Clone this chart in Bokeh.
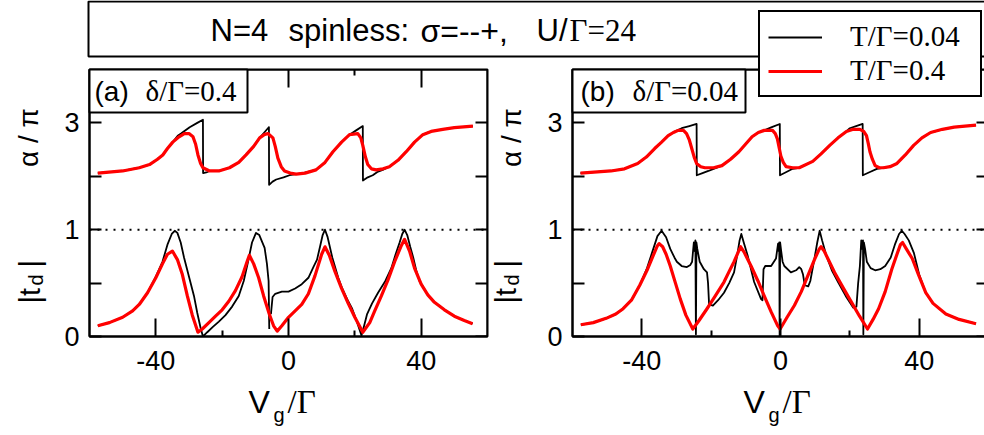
import math
import numpy as np
from bokeh.plotting import figure
from bokeh.layouts import row, column
from bokeh.models import (FixedTicker, LinearAxis, Range1d, Label, Legend, LegendItem,
                          BoxAnnotation, Span)
from bokeh.embed import file_html
from bokeh.resources import INLINE

# ---------------- data ----------------
# x axis: V_g / Gamma ; y: |t_d| (0..1) and alpha/pi (drawn shifted by -1, tick "3" sits at 2)
X_TICKS = [-40, 0, 40]
X_MINOR = [-20, 20]
X_TICK_LABELS = ["-40", "0", "40"]
Y_TICKS = [0, 0.5, 1, 1.5, 2]
Y_TICK_LABELS = ["0", "", "1", "", "3"]
ALPHA_SHIFT = 1.0

SERIES_LABELS = ["T/\u0393=0.04", "T/\u0393=0.4"]
PANEL_LABELS = [("(a)", "\u03b4/\u0393=0.4"), ("(b)", "\u03b4/\u0393=0.04")]

# ---- panel (a): delta/Gamma = 0.4 ----
a_x_blk_a = [-57.5, -50, -45, -41.9, -39.5, -37.9, -36.5, -34.9, -33.4, -32.4, -29.8, -27.5, -25.8, -25.75, -24.5,
             -23.8, -21, -17.8, -15, -12.8, -10.5, -8.7, -7.3, -6.2, -5.9, -5.85, -4.8, -3.7, -1.5, 0.3, 2.3, 4.3,
             8.3, 11, 13.4, 16, 18.4, 20.4, 22.4, 22.45, 23.9, 25.4, 26.8, 28.4, 30.4, 33, 35.5, 38, 40.5, 43,
             46.5, 50, 55.6]
a_y_blk_a = [2.53, 2.55, 2.58, 2.61, 2.66, 2.70, 2.76, 2.82, 2.88, 2.90, 2.96, 3.00, 3.03, 2.53, 2.54,
             2.55, 2.55, 2.58, 2.63, 2.70, 2.78, 2.86, 2.91, 2.95, 2.96, 2.42, 2.45, 2.47, 2.49, 2.51, 2.52, 2.53,
             2.56, 2.63, 2.73, 2.82, 2.89, 2.93, 2.97, 2.46, 2.49, 2.51, 2.54, 2.56, 2.59, 2.65, 2.73, 2.82, 2.89, 2.92,
             2.94, 2.955, 2.97]
a_x_red_a = [-57.5, -50, -45, -41.9, -39.5, -37.9, -36.5, -34.9, -33, -31.4, -30, -28.8, -28, -27.3, -26.5,
             -25.8, -23.8, -21, -17.8, -15, -12.8, -10.5, -8.7, -7.3, -6.2, -4.7, -4, -3.2, -2.2, -1.2, 0.5,
             2.3, 5, 8.3, 11, 13.4, 16, 18.4, 20.9, 21.8, 22.4, 23.2, 23.9, 25, 26.4, 28.5, 30.4, 33, 35.5,
             38, 40.5, 43, 46.5, 50, 55.6]
a_y_red_a = [2.53, 2.55, 2.58, 2.61, 2.66, 2.70, 2.76, 2.82, 2.87, 2.90, 2.90, 2.87, 2.80, 2.70, 2.62,
             2.58, 2.55, 2.55, 2.58, 2.63, 2.70, 2.78, 2.86, 2.89, 2.90, 2.86, 2.78, 2.67, 2.59, 2.55, 2.53,
             2.52, 2.53, 2.56, 2.63, 2.73, 2.82, 2.89, 2.90, 2.86, 2.79, 2.68, 2.61, 2.57, 2.56, 2.57, 2.59, 2.65, 2.73,
             2.82, 2.89, 2.92, 2.94, 2.955, 2.97]
a_x_blk_t = [-57.5, -54, -50, -47, -45, -42.5, -40, -38, -36.5, -35.2, -34.3, -33.5, -32.5, -31.5, -30, -28.5,
             -27.5, -26.5, -25.8, -24.5, -22.8, -21, -19, -17, -15, -13.5, -12.2, -11, -9.8, -8.8, -7.2, -6.5,
             -6.0, -5.8, float("nan"), -5.3, -4.8, -4.0, -2, 0, 2, 4, 6, 7.5, 8.6, 9.5, 10.3, 11, 11.8, 13.2, 15,
             16.2, 18, 19.2, 20.5, 22, 22.8, 23.7, 25.2, 27, 29.2, 31, 32.3, 33.5, 34.3, 35, 35.8, 36.7, 37.6,
             38.5, 39.5, 42, 44, 47, 50, 53, 55.5]
a_y_blk_t = [0.10, 0.13, 0.18, 0.24, 0.30, 0.41, 0.56, 0.70, 0.86, 0.96, 0.99, 0.97, 0.88, 0.74, 0.56, 0.38,
             0.22, 0.08, 0.0, 0.04, 0.09, 0.14, 0.20, 0.28, 0.38, 0.52, 0.70, 0.88, 0.97, 0.95, 0.83, 0.68,
             0.52, 0.07, float("nan"), 0.21, 0.37, 0.40, 0.42, 0.42, 0.45, 0.49, 0.55, 0.65, 0.72, 0.84, 0.95, 1.0, 0.93,
             0.74, 0.55, 0.45, 0.33, 0.26, 0.15, 0.01, 0.10, 0.21, 0.31, 0.41, 0.52, 0.64, 0.77, 0.88, 0.96, 1.0,
             0.95, 0.84, 0.74, 0.62, 0.52, 0.39, 0.32, 0.25, 0.19, 0.15, 0.12]
a_x_red_t = [-57.5, -54, -50, -47, -45, -42.5, -40, -38, -36.5, -35, -33.5, -32, -30.5, -29, -27.3, -26, -24,
             -22, -20, -18, -16, -14, -12.5, -11.8, -10.5, -9, -7.5, -5.8, -4.5, -3.4, -2, 0, 2, 4, 6, 8, 10, 11,
             12.3, 14, 16, 18, 20, 22.4, 24.5, 26, 28, 30, 32, 34, 35, 36.5, 38, 40, 42, 44, 47, 50, 53, 55.5]
a_y_red_t = [0.10, 0.13, 0.18, 0.24, 0.30, 0.41, 0.55, 0.68, 0.77, 0.80, 0.72, 0.58, 0.38, 0.20, 0.04, 0.07,
             0.13, 0.19, 0.25, 0.33, 0.43, 0.56, 0.70, 0.76, 0.68, 0.55, 0.38, 0.21, 0.10, 0.05, 0.10, 0.18, 0.24,
             0.30, 0.40, 0.57, 0.77, 0.84, 0.76, 0.61, 0.45, 0.31, 0.18, 0.04, 0.13, 0.24, 0.38, 0.53, 0.70, 0.85,
             0.91, 0.80, 0.64, 0.49, 0.39, 0.32, 0.25, 0.19, 0.15, 0.12]

# ---- panel (b): delta/Gamma = 0.04 ----
b_x_blk_a = [-57.7, -48.9, -45, -41.2, -38.7, -36.3, -34.3, -32.4, -30.5, -28.5, -26.3, -24.2, -24.15, -22.5,
             -20.8, -19.3, -16.9, -14.4, -12, -10.1, -8.2, -6.4, -4.7, -2.5, -0.2, -0.15, 1.7, 3.5, 5.4, 9.3, 11.7,
             14.2, 16.6, 19.0, 20.0, 21.8, 23.7, 23.75, 25.8, 27.8, 29.7, 31.6, 33.6, 36, 38.4, 40.8, 43.3, 46.7,
             50.1, 53.2, 56.4]
b_y_blk_a = [2.53, 2.55, 2.57, 2.62, 2.68, 2.76, 2.82, 2.88, 2.92, 2.95, 2.97, 2.99, 2.51, 2.53,
             2.55, 2.57, 2.60, 2.66, 2.73, 2.80, 2.87, 2.91, 2.93, 2.96, 2.99, 2.51, 2.54, 2.57, 2.58, 2.64, 2.71,
             2.79, 2.86, 2.92, 2.95, 2.97, 2.99, 2.51, 2.54, 2.57, 2.58, 2.59, 2.62, 2.70, 2.79, 2.86, 2.91, 2.94,
             2.96, 2.97, 2.98]
b_x_red_a = [-57.7, -48.9, -45, -41.2, -38.7, -36.3, -34.3, -32.4, -30.9, -29.5, -28, -27.1, -26.3, -25.6,
             -24.9, -24.2, -23, -21.8, -19.3, -16.9, -14.4, -12, -10.1, -8.2, -6.4, -4.7, -2.3, -1.5, -0.9, -0.4,
             0.1, 0.8, 1.6, 3.5, 5.4, 9.3, 11.7, 14.2, 16.6, 19.0, 21, 22.9, 24, 24.8, 25.3, 25.8, 26.5, 27.3,
             28.5, 29.7, 31.6, 33.6, 36, 38.4, 40.8, 43.3, 46.7, 50.1, 53.2, 56.4]
b_y_red_a = [2.53, 2.55, 2.57, 2.62, 2.68, 2.76, 2.82, 2.88, 2.91, 2.93, 2.93, 2.90, 2.84, 2.76,
             2.68, 2.62, 2.59, 2.58, 2.58, 2.60, 2.66, 2.73, 2.80, 2.87, 2.91, 2.93, 2.93, 2.90, 2.85, 2.77,
             2.69, 2.63, 2.59, 2.58, 2.58, 2.64, 2.71, 2.79, 2.86, 2.92, 2.94, 2.94, 2.92, 2.88, 2.81, 2.73, 2.66,
             2.60, 2.58, 2.58, 2.59, 2.62, 2.70, 2.79, 2.86, 2.91, 2.94, 2.96, 2.97, 2.98]
b_x_blk_t = [-57.6, -54, -50.3, -47.5, -45.4, -43, -40.6, -38.5, -37, -35.5, -34.3, -33, -31.8, -30.6, -29.9,
             -28.5, -27, -26, -25.5, -25.0, -24.75, -24.55, -24.4, -24.25, -24.0, -23.3, -22.1, -21.2, -20.9,
             -20.6, -19.5, -18, -16.3, -14.8, -13.4, -12.5, -11.8, -11.3, -10.6, -9.5, -7.6, -5.6, -5.2, -4.9,
             -4.4, -2.7, -1.3, -0.7, -0.5, -0.35, -0.25, -0.1, 0.2, 0.6, 1.1, 3.0, 4.5, 5.4, 6.0, 6.5, 7.0, 8.0,
             8.6, 9.8, 10.6, 11.3, 12.0, 13.2, 14.8, 16.6, 18.8, 21.0, 21.9, 22.4, 22.9, 23.3, 23.6, 23.8, 23.9,
             24.05, 24.4, 24.9, 26, 27.3, 28.8, 30.2, 31.8, 33.1, 34.2, 35.0, 35.8, 37.0, 38.5, 40, 41.9, 44, 47.7,
             51.5, 56.4]
b_y_blk_t = [0.11, 0.13, 0.17, 0.21, 0.26, 0.34, 0.48, 0.64, 0.79, 0.94, 0.99, 0.93, 0.82, 0.74, 0.70,
             0.66, 0.65, 0.67, 0.70, 0.88, 0.80, 0.90, 0.02, 0.88, 0.82, 0.70, 0.63, 0.60, 0.50,
             0.30, 0.29, 0.34, 0.41, 0.50, 0.60, 0.76, 0.90, 0.96, 0.88, 0.76, 0.51, 0.35, 0.34, 0.63,
             0.66, 0.66, 0.73, 0.87, 0.80, 0.88, 0.0, 0.88, 0.80, 0.70, 0.66, 0.60, 0.62, 0.65, 0.63, 0.58, 0.48, 0.47,
             0.52, 0.73, 0.88, 0.99, 0.90, 0.76, 0.62, 0.51, 0.38, 0.27, 0.28, 0.50, 0.66, 0.90, 0.82, 0.90, 0.02,
             0.88, 0.82, 0.70, 0.64, 0.62, 0.63, 0.66, 0.74, 0.87, 0.96, 0.99, 0.96, 0.90, 0.78, 0.58, 0.41, 0.31, 0.21,
             0.16, 0.12]
b_x_red_t = [-57.6, -54, -50.3, -47.5, -45.4, -43, -40.6, -38.5, -36.7, -35.5, -35, -34, -33, -31.8, -30.3,
             -28.9, -27.3, -25.3, -23.5, -21.2, -18.8, -16.3, -14.8, -13.4, -12.2, -11.5, -10.5, -8.5, -6.5, -4.7,
             -2.7, -0.8, -0.1, 1.9, 4.0, 6, 7.9, 9.8, 11.2, 11.7, 12.6, 13.5, 15.6, 18, 20.5, 22.8, 25.1, 26.7,
             28.3, 30.2, 32.1, 33.7, 34.6, 35.2, 36.3, 38.0, 39.8, 41.9, 44, 47.7, 51.5, 56.4]
b_y_red_t = [0.11, 0.13, 0.17, 0.21, 0.26, 0.34, 0.48, 0.62, 0.76, 0.85, 0.87, 0.84, 0.77, 0.66, 0.50,
             0.35, 0.20, 0.07, 0.15, 0.26, 0.38, 0.51, 0.61, 0.70, 0.79, 0.84, 0.79, 0.66, 0.52, 0.38,
             0.23, 0.10, 0.07, 0.18, 0.29, 0.42, 0.57, 0.72, 0.82, 0.84, 0.80, 0.74, 0.60, 0.46, 0.32, 0.19, 0.07,
             0.16, 0.26, 0.42, 0.63, 0.78, 0.86, 0.88, 0.82, 0.73, 0.58, 0.41, 0.31, 0.21, 0.16, 0.12]

# ---------------- styling / layout constants (page pixels) ----------------
W, H = 984, 435
SPLIT = 526            # the two panel canvases meet here
EDGE_PAD = 4           # extra canvas width so that panel (b)'s frame reaches the window edge
SANS = "Liberation Sans"
SERIF = "Liberation Serif"
RED = "#ff0000"
BLACK_W, RED_W = 1.8, 3.2

PANELS = [
    dict(cx=0, cw=SPLIT, fl=89, fr=487, ft=69, fb=338,
         bx=(a_x_blk_a, a_y_blk_a, a_x_blk_t, a_y_blk_t),
         rx=(a_x_red_a, a_y_red_a, a_x_red_t, a_y_red_t)),
    dict(cx=SPLIT, cw=W - SPLIT + EDGE_PAD, fl=572, fr=W + EDGE_PAD, ft=69, fb=336,
         bx=(b_x_blk_a, b_y_blk_a, b_x_blk_t, b_y_blk_t),
         rx=(b_x_red_a, b_y_red_a, b_x_red_t, b_y_red_t)),
]


def make_panel(cfg):
    p = figure(width=cfg["cw"], height=H, x_range=Range1d(-60, 60), y_range=Range1d(0, 2.5),
               output_backend="svg", toolbar_location=None,
               x_axis_location=None, y_axis_location=None, min_border=0,
               min_border_left=cfg["fl"] - cfg["cx"], min_border_right=cfg["cx"] + cfg["cw"] - cfg["fr"],
               min_border_top=cfg["ft"], min_border_bottom=H - cfg["fb"])
    p.xgrid.visible = False
    p.ygrid.visible = False
    p.outline_line_color = "black"
    p.outline_line_width = 2
    p.background_fill_color = "white"
    p.border_fill_color = "white"
    p.styles = {"flex-shrink": "0"}

    x_ticker = FixedTicker(ticks=X_TICKS, minor_ticks=X_MINOR)
    y_ticker = FixedTicker(ticks=Y_TICKS, minor_ticks=[])
    for loc, is_x, show in [("below", True, True), ("above", True, False),
                            ("left", False, True), ("right", False, False)]:
        ax = LinearAxis(ticker=x_ticker if is_x else y_ticker)
        ax.axis_line_width = 2
        ax.major_tick_line_width = 2
        ax.minor_tick_line_width = 2
        ax.major_tick_in = 18 if is_x else 12
        ax.major_tick_out = 0
        ax.minor_tick_in = 6
        ax.minor_tick_out = 0
        ax.major_label_text_font = SANS
        if show:
            ax.major_label_text_color = "black"
            ax.major_label_text_font_size = "27px"
            ax.major_label_standoff = 14 if is_x else 10
            if is_x:
                ax.major_label_overrides = {t: s for t, s in zip(X_TICKS, X_TICK_LABELS)}
            else:
                ax.major_label_overrides = {t: s for t, s in zip(Y_TICKS, Y_TICK_LABELS)}
        else:
            # tick-only axes along the frame edges (top / right)
            ax.major_label_text_color = None
            ax.major_label_standoff = 0
            ax.fixed_location = 2.5 if is_x else 60
        p.add_layout(ax, loc)

    p.add_layout(Span(location=1, dimension="width", line_color="black", line_width=2,
                      line_dash="2 6", level="underlay"))

    bxa, bya, bxt, byt = cfg["bx"]
    rxa, rya, rxt, ryt = cfg["rx"]
    p.line(bxa, np.array(bya) - ALPHA_SHIFT, line_color="black", line_width=BLACK_W, line_join="round")
    p.line(bxt, byt, line_color="black", line_width=BLACK_W, line_join="round")
    p.line(rxa, np.array(rya) - ALPHA_SHIFT, line_color=RED, line_width=RED_W, line_join="round")
    p.line(rxt, ryt, line_color=RED, line_width=RED_W, line_join="round")
    return p


pa = make_panel(PANELS[0])
pb = make_panel(PANELS[1])

# ---- overlay canvas for title, panel tags, axis titles and legend (page-pixel coordinates) ----
pc = figure(width=W, height=H, x_range=Range1d(0, W), y_range=Range1d(H, 0),
            output_backend="svg", toolbar_location=None,
            x_axis_location=None, y_axis_location=None, min_border=0,
            min_border_left=0, min_border_right=0, min_border_top=0, min_border_bottom=0)
pc.xgrid.visible = False
pc.ygrid.visible = False
pc.outline_line_color = None
pc.background_fill_alpha = 0.0
pc.border_fill_alpha = 0.0
pc.styles = {"position": "absolute", "left": "0px", "top": "0px"}


def txt(px, py, text, font, size, align="left", angle=0.0):
    # (px, py): left end / vertical centre of the text (page pixels)
    pc.add_layout(Label(x=px, y=py, text=text, text_font=font, text_font_size=f"{size}px",
                        text_color="black", text_align=align, text_baseline="middle", angle=angle))


def box(x0, x1, y0, y1):
    pc.add_layout(BoxAnnotation(left=x0, right=x1, top=y0, bottom=y1,
                                fill_color="white", fill_alpha=1.0,
                                line_color="black", line_alpha=1.0, line_width=2))


# title
box(88, 995, 1, 56)
for t, font, px, fs in [("N=4", SANS, 210, 31), ("spinless:", SANS, 288, 31), ("\u03c3=--+,", SANS, 420, 32),
                        ("U/", SANS, 536, 31), ("\u0393=24", SERIF, 569, 31)]:
    txt(px, 30, t, font, fs)

# panel tags
for (tag, delta), (x0, x1, tx, dx) in zip(PANEL_LABELS, [(89, 247, 94, 145), (572, 745, 580, 632)]):
    box(x0, x1, 69, 112)
    txt(tx, 91, tag, SANS, 28)
    txt(dx, 90, delta, SERIF, 29)

# axis titles
for ax_c, t_c, (vx, gx, sx) in [(28, 29, (248, 273, 287)), (511, 505, (743, 768, 782))]:
    txt(ax_c, 137, "\u03b1 / \u03c0", SANS, 28, align="center", angle=math.pi / 2)
    txt(t_c, 303, "|t", SANS, 29, angle=math.pi / 2)
    txt(t_c + 6, 285, "d", SANS, 20, angle=math.pi / 2)
    txt(t_c, 267, "|", SANS, 29, angle=math.pi / 2)
    txt(vx, 401, "V", SANS, 32)
    txt(gx, 414, "g", SANS, 20)
    txt(sx, 401, "/\u0393", SERIF, 33)

# legend (sample renderers carry only the line styles)
lb = pc.line(x=[float("nan")], y=[float("nan")], line_color="black", line_width=BLACK_W)
lr = pc.line(x=[float("nan")], y=[float("nan")], line_color=RED, line_width=RED_W)
legend = Legend(items=[LegendItem(label=SERIES_LABELS[0], renderers=[lb]),
                       LegendItem(label=SERIES_LABELS[1], renderers=[lr])],
                location=(758, H - 97), orientation="vertical",
                padding=8, spacing=1, margin=0, glyph_width=54, glyph_height=30,
                label_height=30, label_width=122, label_standoff=28,
                label_text_font=SERIF, label_text_font_size="29px", label_text_color="black",
                border_line_color="black", border_line_alpha=1.0, border_line_width=2,
                background_fill_color="white", background_fill_alpha=1.0)
pc.add_layout(legend)

panels = row(pa, pb, spacing=0)
panels.styles = {"flex-shrink": "0"}
layout = column(panels, pc, spacing=0)
layout.styles = {"position": "relative", "overflow": "hidden", "width": f"{W}px", "height": f"{H}px"}

open("out.html", "w").write(file_html(layout, INLINE))
